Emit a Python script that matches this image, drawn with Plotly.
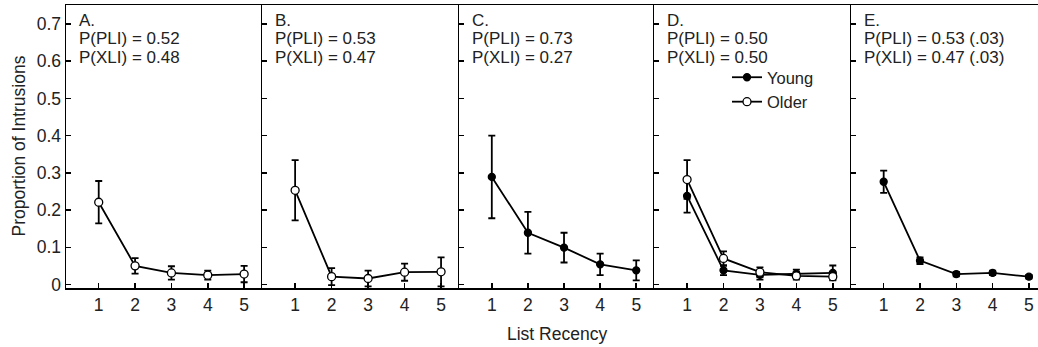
import plotly.graph_objects as go

recency = [1, 2, 3, 4, 5]

# Panel A (older, open markers)
a_vals = [0.221, 0.050, 0.031, 0.025, 0.028]
a_err = [0.057, 0.021, 0.018, 0.012, 0.022]
# Panel B (older)
b_vals = [0.253, 0.021, 0.016, 0.033, 0.034]
b_err = [0.081, 0.023, 0.021, 0.023, 0.039]
# Panel C (young, filled)
c_vals = [0.289, 0.139, 0.099, 0.054, 0.038]
c_err = [0.111, 0.056, 0.040, 0.029, 0.027]
# Panel D (young and older)
d_young = [0.238, 0.038, 0.026, 0.029, 0.031]
d_young_err = [0.045, 0.013, 0.013, 0.011, 0.020]
d_older = [0.282, 0.070, 0.033, 0.023, 0.021]
d_older_err = [0.052, 0.019, 0.013, 0.010, 0.008]
# Panel E (young)
e_vals = [0.276, 0.064, 0.028, 0.031, 0.021]
e_err = [0.030, 0.009, 0.006, 0.006, 0.005]

letters = ["A.", "B.", "C.", "D.", "E."]
pli = ["P(PLI) = 0.52", "P(PLI) = 0.53", "P(PLI) = 0.73", "P(PLI) = 0.50", "P(PLI) = 0.53 (.03)"]
xli = ["P(XLI) = 0.48", "P(XLI) = 0.47", "P(XLI) = 0.27", "P(XLI) = 0.50", "P(XLI) = 0.47 (.03)"]

y_ticks = [0, 0.1, 0.2, 0.3, 0.4, 0.5, 0.6, 0.7]
y_ticktext = ["0", "0.1", "0.2", "0.3", "0.4", "0.5", "0.6", "0.7"]

FONT = "Liberation Sans, Arial, sans-serif"
FS = 17.5
FS_NOTE = 17

W, H = 1038, 347
ML, MR, MT, MB = 66, 0, 5, 59
PW = W - ML - MR
edges_px = [66, 262.3, 459.3, 654.3, 851, 1038]
domains = [((edges_px[i] - ML) / PW, (edges_px[i + 1] - ML) / PW) for i in range(5)]
x_ranges = [[0.1, 5.5]] * 4 + [[0.1, 5.25]]

fig = go.Figure()


def add_series(i, vals, errs, filled, name=None, legend=False):
    ax = "" if i == 1 else str(i)
    marker = dict(
        symbol="circle",
        size=7 if filled else 8,
        color="black" if filled else "white",
        line=dict(color="black", width=1.3),
    )
    fig.add_trace(go.Scatter(
        x=recency, y=vals,
        mode="lines+markers",
        line=dict(color="black", width=1.8),
        marker=marker,
        error_y=dict(type="data", array=errs, visible=True, color="black",
                     thickness=1.8, width=3.5),
        xaxis="x" + ax, yaxis="y" + ax,
        name=name, showlegend=legend,
    ))


add_series(1, a_vals, a_err, False)
add_series(2, b_vals, b_err, False)
add_series(3, c_vals, c_err, True)
add_series(4, d_young, d_young_err, True, "Young", True)
add_series(4, d_older, d_older_err, False, "Older", True)
add_series(5, e_vals, e_err, True)

layout = dict(
    width=W, height=H,
    margin=dict(l=ML, r=MR, t=MT, b=MB),
    paper_bgcolor="white", plot_bgcolor="white",
    font=dict(family=FONT, size=FS, color="#222"),
    showlegend=True,
    legend=dict(
        x=(727 - ML) / PW, y=1 - (60 - MT) / (H - MT - MB),
        xanchor="left", yanchor="top",
        bgcolor="rgba(0,0,0,0)", borderwidth=0,
        font=dict(family=FONT, size=16.5, color="#222"),
        tracegroupgap=0,
    ),
)

annotations = []
for i in range(5):
    n = i + 1
    ax = "" if n == 1 else str(n)
    layout["xaxis" + ax] = dict(
        domain=list(domains[i]), range=x_ranges[i], anchor="y" + ax,
        tickvals=recency, ticktext=[str(v) for v in recency],
        ticks="inside", ticklen=5, tickwidth=1.5, tickcolor="black",
        showline=True, linewidth=1.5, linecolor="black", mirror=True,
        showgrid=False, zeroline=False, fixedrange=True,
        tickfont=dict(family=FONT, size=FS, color="#222"),
    )
    layout["yaxis" + ax] = dict(
        domain=[0, 1], range=[-0.0095, 0.751], anchor="x" + ax,
        tickvals=y_ticks, ticktext=y_ticktext,
        ticks="inside", ticklen=5, tickwidth=1.5, tickcolor="black",
        showline=True, linewidth=1.5, linecolor="black", mirror=False,
        showgrid=False, zeroline=False, showticklabels=(n == 1),
        fixedrange=True,
        tickfont=dict(family=FONT, size=FS, color="#222"),
    )
    for txt, yc in zip([letters[i], pli[i], xli[i]], [20, 38.5, 57]):
        annotations.append(dict(
            text=txt, showarrow=False, borderpad=0,
            xref="x" + ax + " domain", x=0, xshift=12, xanchor="left",
            yref="y" + ax + " domain", y=1, yshift=-(yc - MT), yanchor="middle",
            font=dict(family=FONT, size=FS_NOTE, color="#222"),
        ))

annotations.append(dict(
    text="Proportion of Intrusions", showarrow=False, textangle=-90,
    xref="paper", x=0, xshift=18 - ML, xanchor="center",
    yref="paper", y=0.5, yanchor="middle",
    font=dict(family=FONT, size=FS, color="#222"),
))
annotations.append(dict(
    text="List Recency", showarrow=False,
    xref="x3 domain", x=0.5, xanchor="center",
    yref="paper", y=0, yshift=-(334 - 288), yanchor="middle",
    font=dict(family=FONT, size=FS, color="#222"),
))
layout["annotations"] = annotations

fig.update_layout(**layout)
fig.write_html(
    "out.html",
    config={"displayModeBar": False, "staticPlot": True},
    post_script="document.body.style.margin='0';document.body.style.overflow='hidden';",
)
